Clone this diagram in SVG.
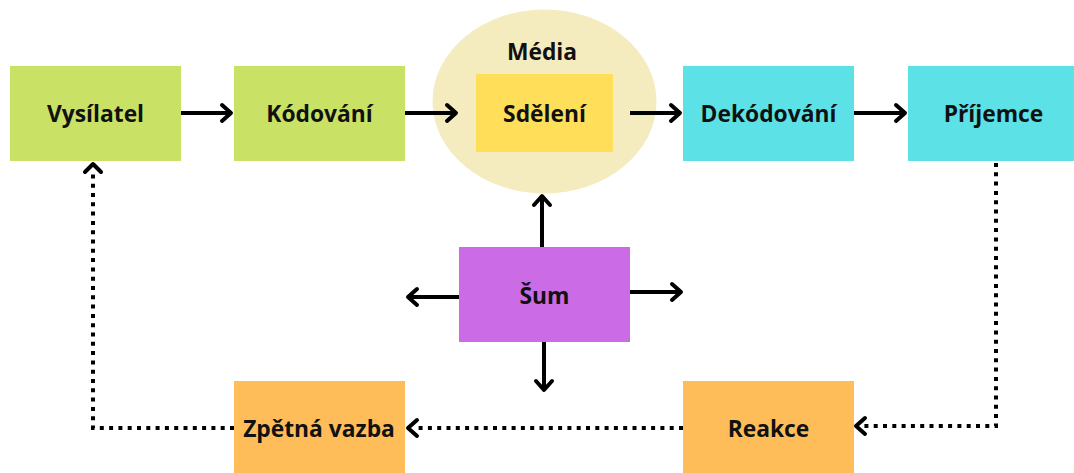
<svg xmlns="http://www.w3.org/2000/svg" width="1074" height="473" viewBox="0 0 1074 473">
<style>
text{font-family:"Open Sans","Noto Sans","Liberation Sans",sans-serif;font-weight:bold;font-size:22.8px;fill:#111;text-anchor:middle;dominant-baseline:central}
.green{fill:#C9E265}.cyan{fill:#5CE1E6}.orange{fill:#FFBD59}.purple{fill:#CB6CE6}.yellow{fill:#FFDE59}
.solid{stroke:#000;stroke-width:4;fill:none;marker-end:url(#ah)}
.dot{stroke:#000;stroke-width:4;fill:none;stroke-dasharray:4 5.3}
</style>
<defs>
<marker id="ah" markerUnits="userSpaceOnUse" markerWidth="30" markerHeight="30" viewBox="-15 -15 30 30" refX="0" refY="0" orient="auto">
<path d="M-9,-8 L0,0 L-9,8" fill="none" stroke="#000" stroke-width="4" stroke-linecap="round" stroke-linejoin="round"/>
</marker>
</defs>
<rect width="1074" height="473" fill="#fff"/>
<g id="media">
<ellipse cx="544.5" cy="101.5" rx="112" ry="92" fill="#F4ECBE"/>
<text x="542" y="51">Média</text>
</g>
<g id="vysilatel"><rect class="green" x="10" y="66" width="171" height="95"/><text x="95.5" y="113">Vysílatel</text></g>
<g id="kodovani"><rect class="green" x="234" y="66" width="171" height="95"/><text x="319.5" y="113">Kódování</text></g>
<g id="sdeleni"><rect class="yellow" x="476" y="74" width="137" height="78"/><text x="544.5" y="113">Sdělení</text></g>
<g id="dekodovani"><rect class="cyan" x="683" y="66" width="171" height="95"/><text x="768.5" y="113">Dekódování</text></g>
<g id="prijemce"><rect class="cyan" x="908" y="66" width="171" height="95"/><text x="993.5" y="113">Příjemce</text></g>
<g id="sum"><rect class="purple" x="459" y="247" width="171" height="95"/><text x="544.5" y="295">Šum</text></g>
<g id="zpetna-vazba"><rect class="orange" x="234" y="381" width="171" height="95"/><text x="319" y="428">Zpětná vazba</text></g>
<g id="reakce"><rect class="orange" x="683" y="381" width="171" height="95"/><text x="768.5" y="428">Reakce</text></g>
<g id="connectors">
<path class="solid" d="M181,113 H231"/>
<path class="solid" d="M405,113 H456"/>
<path class="solid" d="M630,113 H680"/>
<path class="solid" d="M854,113 H905"/>
<path class="solid" d="M542,247 V196"/>
<path class="solid" d="M459,297 H408"/>
<path class="solid" d="M630,292 H681"/>
<path class="solid" d="M544,342 V390"/>
<path class="dot" d="M996,163 V426 H862"/>
<path d="M865,418 L856,426 L865,434" fill="none" stroke="#000" stroke-width="4" stroke-linecap="round" stroke-linejoin="round"/>
<path class="dot" d="M683,428 H414"/>
<path d="M417,420 L408,428 L417,436" fill="none" stroke="#000" stroke-width="4" stroke-linecap="round" stroke-linejoin="round"/>
<path class="dot" d="M234,428 H93 V172"/>
<path d="M85,172 L93,164 L101,172" fill="none" stroke="#000" stroke-width="4" stroke-linecap="round" stroke-linejoin="round"/>
</g>
</svg>
